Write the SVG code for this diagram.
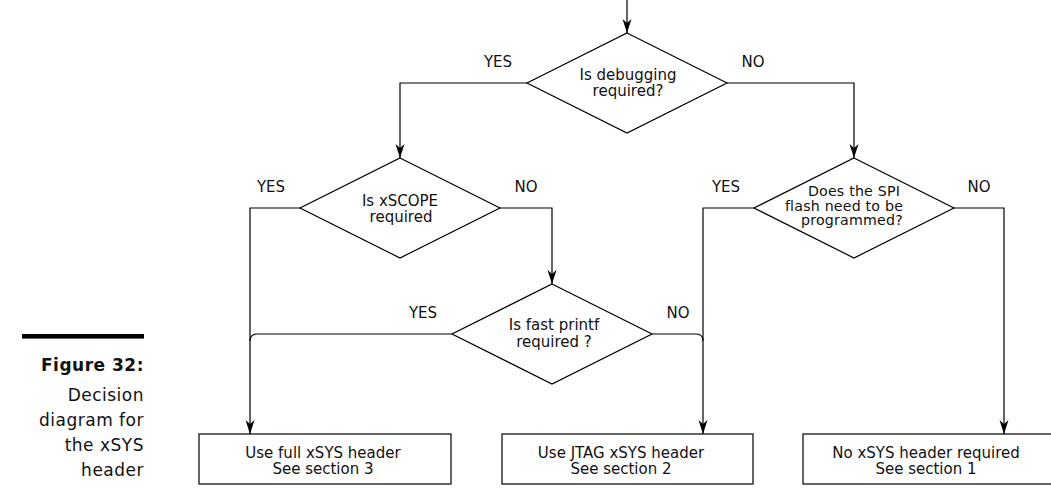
<svg xmlns="http://www.w3.org/2000/svg" width="1051" height="493" viewBox="0 0 1051 493">
<style>
text{font-family:"DejaVu Sans","Liberation Sans",sans-serif;font-size:15px;fill:#111}
.c{text-anchor:middle}
.cap{text-anchor:end;font-size:17px;letter-spacing:0.5px}
.b{font-weight:bold}
.sm{font-size:14.2px;letter-spacing:0.2px}
.shape{fill:#fff;stroke:#000;stroke-width:1.2}
.con{fill:none;stroke:#000;stroke-width:1.2}
</style>
<defs>
<marker id="ah" markerUnits="userSpaceOnUse" markerWidth="14" markerHeight="10" viewBox="-14 -5 14 10" refX="0" refY="0" orient="auto">
<path d="M0,0 L-14,-4.5 L-10,0 L-14,4.5 Z" fill="#000"/>
</marker>
</defs>
<rect width="1051" height="493" fill="#fff"/>
<g id="caption">
<rect x="22" y="334" width="122" height="4.6" fill="#000"/>
<text class="cap b" x="144" y="371">Figure 32:</text>
<text class="cap" x="144" y="401">Decision</text>
<text class="cap" x="144" y="426">diagram for</text>
<text class="cap" x="144" y="451">the xSYS</text>
<text class="cap" x="144" y="476">header</text>
</g>
<g id="connectors">
<path class="con" d="M627,0 V33" marker-end="url(#ah)"/>
<path class="con" d="M527,83 H400 V158" marker-end="url(#ah)"/>
<path class="con" d="M727,83 H854 V158" marker-end="url(#ah)"/>
<path class="con" d="M300,208 H250 V434" marker-end="url(#ah)"/>
<path class="con" d="M500,208 H552 V284" marker-end="url(#ah)"/>
<path class="con" d="M452,334 H257 Q250,334 250,341"/>
<path class="con" d="M652,334 H696 Q703,334 703,341"/>
<path class="con" d="M754,208 H703 V434" marker-end="url(#ah)"/>
<path class="con" d="M954,208 H1004 V434" marker-end="url(#ah)"/>
</g>
<g id="labels">
<text class="c" x="498" y="67">YES</text>
<text class="c" x="753" y="67">NO</text>
<text class="c" x="271" y="192">YES</text>
<text class="c" x="526" y="192">NO</text>
<text class="c" x="726" y="192">YES</text>
<text class="c" x="979" y="192">NO</text>
<text class="c" x="423" y="318">YES</text>
<text class="c" x="678" y="318">NO</text>
</g>
<g id="d-debug">
<polygon class="shape" points="627,33 727,83 627,133 527,83"/>
<text class="c"><tspan x="628" y="80">Is debugging</tspan><tspan x="628" y="96">required?</tspan></text>
</g>
<g id="d-xscope">
<polygon class="shape" points="400,158 500,208 400,258 300,208"/>
<text class="c"><tspan x="400" y="206">Is xSCOPE</tspan><tspan x="401" y="222">required</tspan></text>
</g>
<g id="d-spi">
<polygon class="shape" points="854,158 954,208 854,258 754,208"/>
<text class="c sm"><tspan x="854" y="196">Does the SPI</tspan><tspan x="844" y="210.6">flash need to be</tspan><tspan x="852" y="225.2">programmed?</tspan></text>
</g>
<g id="d-printf">
<polygon class="shape" points="552,284 652,334 552,384 452,334"/>
<text class="c"><tspan x="554" y="330">Is fast printf</tspan><tspan x="554" y="347">required ?</tspan></text>
</g>
<g id="b-full">
<rect class="shape" x="199" y="434" width="252" height="50"/>
<text class="c"><tspan x="323" y="458">Use full xSYS header</tspan><tspan x="323" y="474">See section 3</tspan></text>
</g>
<g id="b-jtag">
<rect class="shape" x="502" y="434" width="251" height="50"/>
<text class="c"><tspan x="621" y="458">Use JTAG xSYS header</tspan><tspan x="621" y="474">See section 2</tspan></text>
</g>
<g id="b-none">
<rect class="shape" x="803" y="434" width="251" height="50"/>
<text class="c"><tspan x="926" y="458">No xSYS header required</tspan><tspan x="926" y="474">See section 1</tspan></text>
</g>
</svg>
